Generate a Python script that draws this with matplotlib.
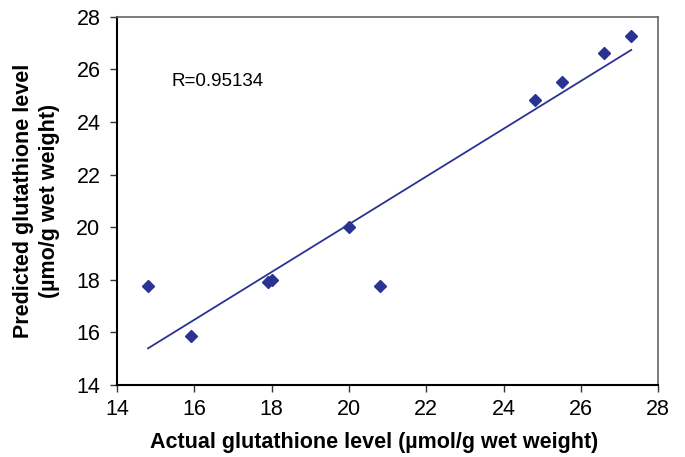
import numpy as np
import matplotlib.pyplot as plt

plt.rcParams['font.family'] = ['Liberation Sans', 'DejaVu Sans']

actual = [14.8, 15.9, 17.9, 18.0, 20.0, 20.8, 24.8, 25.5, 26.6, 27.3]
predicted = [17.77, 15.87, 17.93, 18.0, 20.02, 17.77, 24.82, 25.54, 26.64, 27.29]
ticks = [14, 16, 18, 20, 22, 24, 26, 28]
r_text = 'R=0.95134'

blue = '#2B3392'

fig = plt.figure(figsize=(6.85, 4.57), dpi=100)
ax = fig.add_axes([0.171, 0.158, 0.79, 0.805])

# trendline from a least-squares fit
slope, icpt = np.polyfit(actual, predicted, 1)
xs = np.array([min(actual), max(actual)])
ax.plot(xs, slope * xs + icpt, color=blue, lw=1.3, zorder=2)
ax.plot(actual, predicted, linestyle='none', marker='D', ms=6.3,
        color=blue, zorder=3)

ax.text(15.4, 25.55, r_text, fontsize=13.5, va='center', ha='left')

ax.set_xlim(14, 28)
ax.set_ylim(14, 28)
ax.set_xticks(ticks)
ax.set_yticks(ticks)
ax.tick_params(labelsize=15.5, direction='out', length=5, width=1, color='#333333')
ax.tick_params(axis='x', pad=5)
ax.tick_params(axis='y', pad=7)

for s in ['left', 'bottom']:
    ax.spines[s].set_color('black')
    ax.spines[s].set_linewidth(1.5)
for s in ['top', 'right']:
    ax.spines[s].set_color('#666666')
    ax.spines[s].set_linewidth(1.2)

ax.set_xlabel('Actual glutathione level (\u00b5mol/g wet weight)',
              fontsize=15.5, fontweight='bold', labelpad=9)
ax.xaxis.label.set_x(0.475)
ax.set_ylabel('Predicted glutathione level\n(\u00b5mo/g wet weight)',
              fontsize=15.5, fontweight='bold', labelpad=12, linespacing=1.3)

fig.savefig('out.png', dpi=100)
